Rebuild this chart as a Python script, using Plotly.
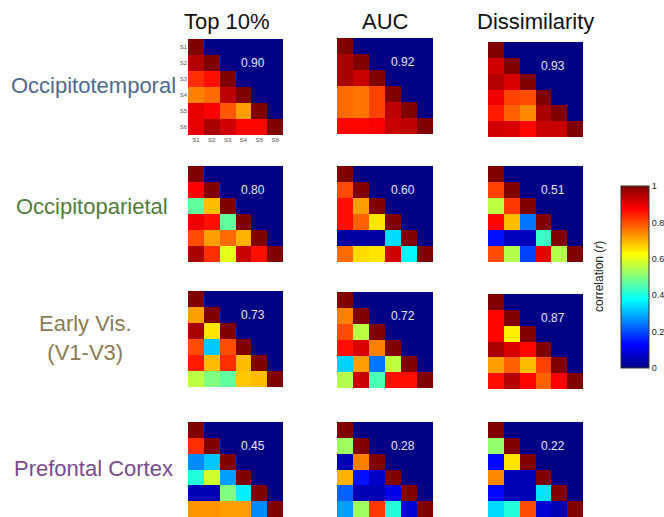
import plotly.graph_objects as go

W, H = 664, 517

regions = ["Occipitotemporal", "Occipitoparietal", "Early Vis.<br>(V1-V3)", "Prefontal Cortex"]
region_colors = ["#4d6b8e", "#4f7d3c", "#8c7b52", "#7b4a8c"]
methods = ["Top 10%", "AUC", "Dissimilarity"]
stimuli = ["S1", "S2", "S3", "S4", "S5", "S6"]

# lower-triangle (below diagonal) correlations, rows S2..S6
ot_top10 = [[0.95], [0.83, 0.86], [0.75, 0.77, 0.94], [0.90, 0.88, 0.79, 0.72], [0.90, 0.96, 0.92, 0.87, 0.87]]
ot_auc = [[0.96], [0.96, 0.93], [0.77, 0.76, 0.81], [0.77, 0.76, 0.81, 0.94], [0.87, 0.87, 0.88, 0.93, 0.94]]
ot_dissim = [[0.92], [0.95, 0.91], [0.89, 0.81, 0.80], [0.85, 0.78, 0.74, 0.96], [0.92, 0.91, 0.87, 0.93, 0.93]]
op_top10 = [[0.88], [0.47, 0.69], [0.89, 0.86, 0.47], [0.80, 0.72, 0.77, 0.70], [0.96, 0.83, 0.60, 0.93, 0.86]]
op_auc = [[0.80], [0.86, 0.72], [0.86, 0.78, 0.65], [0.03, 0.03, 0.03, 0.34], [0.77, 0.66, 0.65, 0.92, 0.37]]
op_dissim = [[0.81], [0.56, 0.82], [0.87, 0.69, 0.24], [0.14, 0.06, 0.06, 0.43], [0.80, 0.55, 0.19, 0.90, 0.55]]
ev_top10 = [[0.72], [0.96, 0.65], [0.80, 0.32, 0.80], [0.85, 0.69, 0.83, 0.69], [0.56, 0.50, 0.47, 0.68, 0.69]]
ev_auc = [[0.75], [0.80, 0.56], [0.86, 0.91, 0.75], [0.33, 0.72, 0.24, 0.56], [0.55, 0.93, 0.45, 0.86, 0.86]]
ev_dissim = [[0.87], [0.87, 0.64], [0.96, 0.91, 0.87], [0.72, 0.78, 0.69, 0.81], [0.86, 0.95, 0.87, 0.78, 0.88]]
pfc_top10 = [[0.83], [0.26, 0.32], [0.41, 0.58, 0.28], [0.05, 0.05, 0.50, 0.36], [0.73, 0.73, 0.72, 0.72, 0.26]]
pfc_auc = [[0.53], [0.05, 0.75], [0.70, 0.14, 0.07], [0.22, 0.05, 0.05, 0.10], [0.28, 0.53, 0.82, 0.41, 0.08]]
pfc_dissim = [[0.52], [0.13, 0.65], [0.74, 0.05, 0.05], [0.13, 0.05, 0.05, 0.35], [0.34, 0.41, 0.80, 0.08, 0.05]]

r_values = [[0.90, 0.92, 0.93], [0.80, 0.60, 0.51], [0.73, 0.72, 0.87], [0.45, 0.28, 0.22]]

matrices = [[ot_top10, ot_auc, ot_dissim],
            [op_top10, op_auc, op_dissim],
            [ev_top10, ev_auc, ev_dissim],
            [pfc_top10, pfc_auc, pfc_dissim]]

jet = [[0.0, "rgb(0,0,132)"], [0.125, "rgb(0,0,255)"], [0.375, "rgb(0,255,255)"],
       [0.625, "rgb(255,255,0)"], [0.875, "rgb(255,0,0)"], [1.0, "rgb(128,0,0)"]]

FONT = "Liberation Sans, Arial, sans-serif"


def full_matrix(lower):
    n = len(lower) + 1
    m = [[0.0] * n for _ in range(n)]
    for i in range(n):
        m[i][i] = 1.0
    for i, row in enumerate(lower):
        for j, v in enumerate(row):
            m[i + 1][j] = v
    return m


def px_x(p):
    return p / W


def px_y(p):
    return 1 - p / H


# screen-pixel layout of each heatmap (left, right) and (top, bottom)
col_px = [(188, 283), (337, 433), (488, 583)]
row_px = [[(39, 135), (38, 134), (42, 137)],
          [(166, 262), (166, 262), (166, 262)],
          [(291, 387), (292, 388), (294, 389)],
          [(422, 517), (422, 517), (422, 517)]]

fig = go.Figure()
layout = {}
annotations = []
k = 0
for r in range(4):
    for c in range(3):
        k += 1
        xa = "x" if k == 1 else f"x{k}"
        ya = "y" if k == 1 else f"y{k}"
        xkey = "xaxis" if k == 1 else f"xaxis{k}"
        ykey = "yaxis" if k == 1 else f"yaxis{k}"
        z = full_matrix(matrices[r][c])
        trace = go.Heatmap(
            z=z, x=list(range(6)), y=list(range(6)), xaxis=xa, yaxis=ya,
            colorscale=jet, zmin=0, zmax=1, showscale=(k == 1), hoverinfo="skip")
        if k == 1:
            trace.colorbar = dict(
                x=px_x(621), xanchor="left", xpad=0, ypad=0,
                y=px_y(277), yanchor="middle",
                lenmode="pixels", len=182, thickness=28,
                outlinewidth=1, outlinecolor="#333",
                tickvals=[0, 0.2, 0.4, 0.6, 0.8, 1.0],
                ticktext=["0", "0.2", "0.4", "0.6", "0.8", "1"],
                ticks="", tickfont=dict(size=9, color="#222", family=FONT))
        fig.add_trace(trace)
        x0, x1 = col_px[c]
        t, b = row_px[r][c]
        show = (k == 1)
        axis_common = dict(showgrid=False, zeroline=False, showline=False,
                           tickvals=list(range(6)) if show else [], ticktext=stimuli if show else [],
                           showticklabels=show, ticks="", ticklen=0,
                           tickfont=dict(size=6, color="#555", family=FONT), fixedrange=True)
        layout[xkey] = dict(domain=[px_x(x0), px_x(x1)], range=[-0.5, 5.5], anchor=ya, **axis_common)
        layout[ykey] = dict(domain=[max(0.0, px_y(b)), px_y(t)], range=[5.5, -0.5], anchor=xa, **axis_common)
        annotations.append(dict(x=3.6, y=1.0, xref=xa, yref=ya, text=f"{r_values[r][c]:.2f}",
                                showarrow=False, font=dict(size=12, color="#e6e6ff", family=FONT)))

title_x = [227, 385, 535]
for c, m in enumerate(methods):
    annotations.append(dict(x=px_x(title_x[c]), y=px_y(22), xref="paper", yref="paper",
                            text=m, showarrow=False, xanchor="center", yanchor="middle",
                            font=dict(size=22, color="#111", family=FONT)))

label_x = [93, 92, 85, 93]
label_y = [85, 207, 338, 468]
for r, name in enumerate(regions):
    annotations.append(dict(x=px_x(label_x[r]), y=px_y(label_y[r]), xref="paper", yref="paper",
                            text=name, showarrow=False, xanchor="center", yanchor="middle",
                            align="center",
                            font=dict(size=22, color=region_colors[r], family=FONT)))

annotations.append(dict(x=px_x(599), y=px_y(277), xref="paper", yref="paper",
                        text="correlation (<i>r</i>)", textangle=-90, showarrow=False,
                        xanchor="center", yanchor="middle",
                        font=dict(size=12, color="#222", family=FONT)))

fig.update_layout(width=W, height=H, margin=dict(l=0, r=0, t=0, b=0),
                  paper_bgcolor="white", plot_bgcolor="white",
                  annotations=annotations, showlegend=False, **layout)

fig.write_html("out.html", config={"displayModeBar": False},
               post_script="document.body.style.margin='0';document.body.style.overflow='hidden';")
